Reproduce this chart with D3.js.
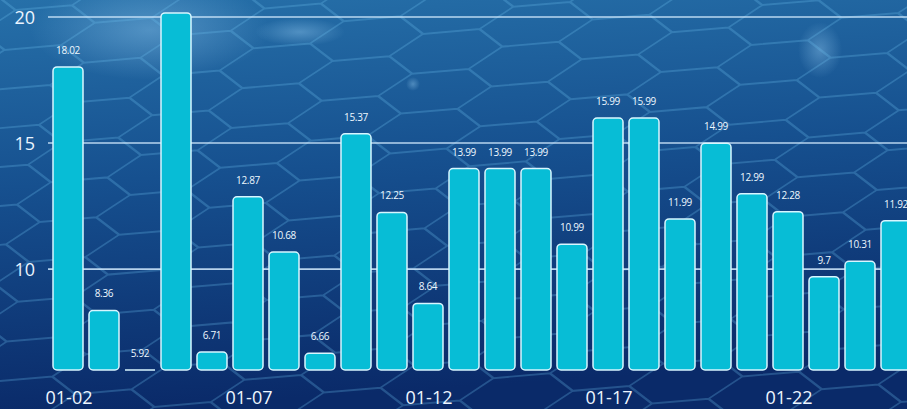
<!DOCTYPE html>
<html><head><meta charset="utf-8">
<script src="https://cdn.jsdelivr.net/npm/d3@7"></script>
<style>html,body{margin:0;padding:0;background:#0c2f6e;overflow:hidden}svg{display:block}</style>
</head><body>
<svg id="c" width="907" height="409"></svg>
<script>
const categories = ["01-02","01-03","01-04","01-05","01-06","01-07","01-08","01-09","01-10","01-11","01-12","01-13","01-14","01-15","01-16","01-17","01-18","01-19","01-20","01-21","01-22","01-23","01-24","01-25"];
const values = [18.02,8.36,5.92,20.16,6.71,12.87,10.68,6.66,15.37,12.25,8.64,13.99,13.99,13.99,10.99,15.99,15.99,11.99,14.99,12.99,12.28,9.7,10.31,11.92];
const yTicks = [10,15,20];
const xTickLabels = ["01-02","01-07","01-12","01-17","01-22"];

const W=907,H=409;
const svg=d3.select("#c");
const defs=svg.append("defs");
const bg=defs.append("linearGradient").attr("id","bg").attr("x1",0).attr("y1",0).attr("x2",0.15).attr("y2",1);
bg.append("stop").attr("offset","0%").attr("stop-color","#2670a9");
bg.append("stop").attr("offset","45%").attr("stop-color","#16508f");
bg.append("stop").attr("offset","100%").attr("stop-color","#0a2a69");
svg.append("rect").attr("width",W).attr("height",H).attr("fill","url(#bg)");
// soft glows
const glow=defs.append("radialGradient").attr("id","glow");
glow.append("stop").attr("offset","0%").attr("stop-color","#a8dcff").attr("stop-opacity",0.35);
glow.append("stop").attr("offset","100%").attr("stop-color","#a8dcff").attr("stop-opacity",0);
[[300,32,45,14],[820,50,22,28],[413,84,7,7],[150,30,120,50]].forEach(g=>{
  svg.append("ellipse").attr("cx",g[0]).attr("cy",g[1]).attr("rx",g[2]).attr("ry",g[3]).attr("fill","url(#glow)");
});
// hex pattern (decorative)
const hw=110,hh=40;
const hex=d3.path();
for(let c=-2;c<14;c++){
  for(let r=-2;r<16;r++){
    const cx=c*hw*0.75, cy=r*hh+(c%2?hh/2:0);
    const pts=[[cx-hw/2,cy],[cx-hw/4,cy-hh/2],[cx+hw/4,cy-hh/2],[cx+hw/2,cy],[cx+hw/4,cy+hh/2],[cx-hw/4,cy+hh/2]];
    hex.moveTo(pts[0][0],pts[0][1]);
    pts.slice(1).forEach(p=>hex.lineTo(p[0],p[1]));
    hex.closePath();
  }
}
svg.append("path").attr("d",hex.toString()).attr("fill","none")
  .attr("stroke","#6cc0ee").attr("stroke-opacity",0.28).attr("stroke-width",2)
  .attr("transform","translate(-30,-25) skewX(-20) rotate(-5)");

const x=d3.scaleBand().domain(categories).range([50,914]).paddingInner(1/6).paddingOuter(1/12);
const ymin=6;
const y=d3.scaleLinear().domain([ymin,20]).range([370,17]);
const rows=values.map((v,i)=>({cat:categories[i],v}));

// gridlines
svg.append("g").selectAll("line").data(yTicks).join("line")
  .attr("x1",48).attr("x2",W).attr("y1",d=>y(d)).attr("y2",d=>y(d))
  .attr("stroke","#d4ecff").attr("stroke-opacity",0.85).attr("stroke-width",1.6);
// y labels
svg.append("g").selectAll("text").data(yTicks).join("text")
  .attr("x",35).attr("y",d=>y(d)+7).attr("text-anchor","end")
  .attr("font-family","Open Sans, sans-serif").attr("font-size",18).attr("fill","#eaf4ff")
  .text(d=>d);

// bars
const bars=svg.append("g");
bars.selectAll("rect").data(rows.filter(o=>o.v>ymin)).join("rect")
  .attr("x",o=>x(o.cat)).attr("width",x.bandwidth())
  .attr("y",o=>y(o.v)).attr("height",o=>y(ymin)-y(o.v))
  .attr("rx",4).attr("ry",4)
  .attr("fill","#07bdd6").attr("stroke","#d8f6ff").attr("stroke-width",1.5);
// bars below the axis minimum collapse to a baseline
bars.selectAll("line").data(rows.filter(o=>o.v<=ymin)).join("line")
  .attr("x1",o=>x(o.cat)).attr("x2",o=>x(o.cat)+x.bandwidth())
  .attr("y1",y(ymin)).attr("y2",y(ymin))
  .attr("stroke","#d8f6ff").attr("stroke-width",1.5);
// value labels (those above the plot top are out of view, as in the reference)
svg.append("g").selectAll("text").data(rows.filter(o=>y(Math.max(o.v,ymin))-13>8)).join("text")
  .attr("x",o=>x(o.cat)+x.bandwidth()/2)
  .attr("y",o=>y(Math.max(o.v,ymin))-13)
  .attr("text-anchor","middle").attr("font-family","Open Sans, sans-serif")
  .attr("font-size",10).attr("fill","#eef8ff").attr("letter-spacing","-0.3")
  .text(o=>o.v);
// x labels
svg.append("g").selectAll("text").data(xTickLabels).join("text")
  .attr("x",d=>x(d)+x.bandwidth()/2+1).attr("y",404)
  .attr("text-anchor","middle").attr("font-family","Open Sans, sans-serif")
  .attr("font-size",18).attr("fill","#eef6ff").text(d=>d);
</script>
</body></html>
